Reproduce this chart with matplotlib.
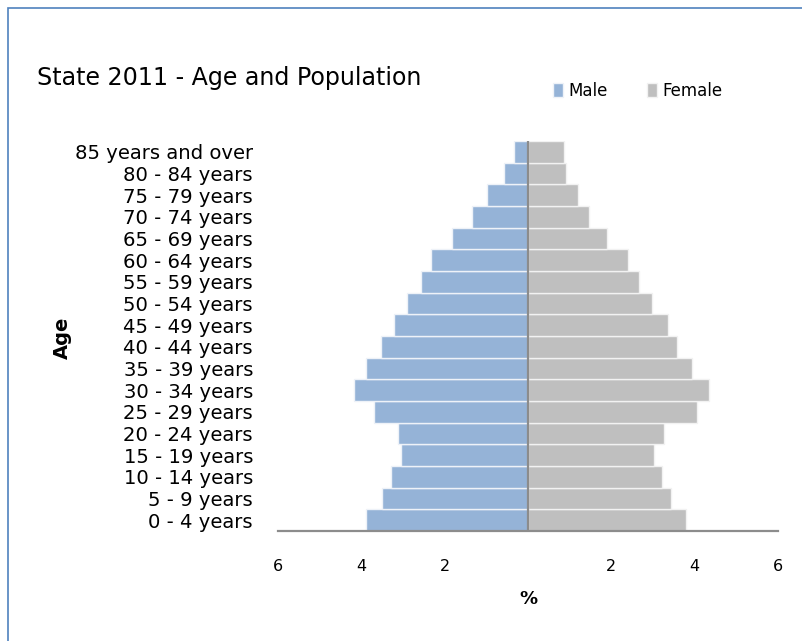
import matplotlib
matplotlib.use("Agg")
import matplotlib.pyplot as plt
from matplotlib.patches import Rectangle
from matplotlib.ticker import FixedLocator, FuncFormatter

age_groups = ["0 - 4 years", "5 - 9 years", "10 - 14 years", "15 - 19 years",
              "20 - 24 years", "25 - 29 years", "30 - 34 years", "35 - 39 years",
              "40 - 44 years", "45 - 49 years", "50 - 54 years", "55 - 59 years",
              "60 - 64 years", "65 - 69 years", "70 - 74 years", "75 - 79 years",
              "80 - 84 years", "85 years and over"]
male = [3.90, 3.50, 3.30, 3.06, 3.13, 3.70, 4.18, 3.90, 3.54, 3.22, 2.90, 2.58,
        2.34, 1.82, 1.34, 0.98, 0.57, 0.33]
female = [3.78, 3.42, 3.22, 3.02, 3.26, 4.06, 4.35, 3.94, 3.58, 3.35, 2.98, 2.67,
          2.39, 1.90, 1.46, 1.21, 0.90, 0.86]
x_ticks = [-6, -4, -2, 2, 4, 6]

male_color = "#95B3D7"
female_color = "#BFBFBF"
font = ["DejaVu Sans"]

fig = plt.figure(figsize=(8.02, 6.41), dpi=100)
fig.patch.set_facecolor("white")
# blue frame (left and top edges visible)
fig.add_artist(Rectangle((8/802, -0.1), 1.2, 1 - 8/641 + 0.1, transform=fig.transFigure,
                         fill=False, edgecolor="#4F81BD", linewidth=1.2))

ax = fig.add_axes([278/802, 1 - 531/641, 500/802, (531 - 141)/641])
ypos = list(range(len(age_groups)))
ax.barh(ypos, [-v for v in male], height=1.0, color=male_color, edgecolor="#EEF2F8",
        linewidth=1.0, label="Male")
ax.barh(ypos, female, height=1.0, color=female_color, edgecolor="#F2F2F2",
        linewidth=1.0, label="Female")
ax.axvline(0, color="#8C8C8C", linewidth=1.6)

ax.set_xlim(-6, 6)
ax.set_ylim(-0.5, len(age_groups) - 0.5)
for s in ["top", "right", "left"]:
    ax.spines[s].set_visible(False)
ax.spines["bottom"].set_color("#8C8C8C")
ax.spines["bottom"].set_linewidth(1.6)

ax.xaxis.set_major_locator(FixedLocator(x_ticks))
ax.xaxis.set_major_formatter(FuncFormatter(lambda v, p: f"{abs(v):.0f}"))
ax.tick_params(axis="x", length=0, pad=20, labelsize=11.5)
ax.set_yticks(ypos)
ax.set_yticklabels(age_groups, fontsize=14.1, family=font)
ax.tick_params(axis="y", length=0, pad=18)

ax.set_xlabel("%", fontsize=13, fontweight="bold", labelpad=12)
fig.text(62/802, 1 - 338/641, "Age", rotation=90, fontsize=14, fontweight="bold",
         ha="center", va="center")

fig.text(37/802, 1 - 78/641, "State 2011 - Age and Population", fontsize=17.1,
         ha="left", va="center")

leg = fig.legend(loc="center left", bbox_to_anchor=(538/802, 1 - 91/641), ncol=2,
                 frameon=False, handlelength=0.6, handleheight=0.9,
                 handletextpad=0.3, columnspacing=2.4, prop={"size": 12})

fig.savefig("out.png", dpi=100, facecolor="white")
